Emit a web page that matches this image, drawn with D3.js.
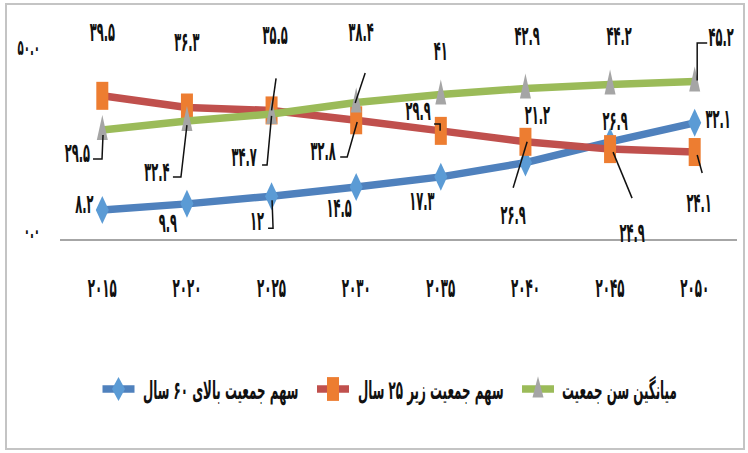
<!DOCTYPE html>
<html><head><meta charset="utf-8">
<script src="https://cdn.jsdelivr.net/npm/d3@7"></script>
<style>html,body{margin:0;padding:0;background:#fff;} svg{display:block;}</style>
</head><body>
<svg id="chart" width="748" height="453"></svg>
<script>
// ---- data ----
const years = [2015, 2020, 2025, 2030, 2035, 2040, 2045, 2050];
const over60 = [8.2, 9.9, 12, 14.5, 17.3, 21.2, 26.9, 32.1];     // سهم جمعیت بالای ۶۰ سال
const under25 = [39.5, 36.3, 35.5, 32.8, 29.9, 26.9, 24.9, 24.1]; // سهم جمعیت زیر ۲۵ سال
const meanAge = [29.5, 32.4, 34.7, 38.4, 41, 42.9, 44.2, 45.2];   // میانگین سن جمعیت
const yTicks = [0, 50];
const seriesNames = ["سهم جمعیت بالای ۶۰ سال", "سهم جمعیت زیر ۲۵ سال", "میانگین سن جمعیت"];

// ---- layout / style (not data) ----
const W = 748, H = 453;
const plot = {left: 60, right: 737, top: 57.5, bottom: 240};
const fa = s => String(s).replace(/[0-9]/g, d => "۰۱۲۳۴۵۶۷۸۹"[d]);
const fmt1 = v => fa(v.toFixed(1));
const fmtLabel = v => fa(String(v));

const svg = d3.select("#chart");
svg.append("rect").attr("x", 6).attr("y", 4).attr("width", 738).attr("height", 445)
  .attr("fill", "#fff").attr("stroke", "#c4c4c4").attr("stroke-width", 2);

const x = d3.scaleBand().domain(years).range([plot.left, plot.right]);
const xc = i => x(years[i]) + x.bandwidth() / 2;
const y = d3.scaleLinear().domain([0, 50]).range([plot.bottom, plot.top]);
const y2 = d3.scaleLinear().domain([0, 50]).range([221.5, 66.5]); // secondary (hidden) axis

// label offsets relative to the point, and leader polylines relative to the point
const labelLayout = {
  blue: {
    off: [[-18,-6],[-19,19],[-14.5,25],[-17,21],[-19,24],[12,-47.5],[5,-21],[23.5,-4]],
    lead: {2: [[-3.5,32],[1.5,32],[0.5,4]]}
  },
  orange: {
    off: [[0,-64],[0,-65.5],[3.5,-76],[-33,31],[-22.7,-20],[-12.3,73],[22,84],[4.5,51]],
    lead: {2: [[4.5,-32],[0,0]], 3: [[-16,36.7],[-9,36.7],[1,1.7]], 4: [[-6.7,-6.9],[-0.7,-6.9],[-0.7,0]],
           5: [[-12.3,46],[1.7,0]], 6: [[3,3],[22,49]], 7: [[2.5,3],[7.5,21]]}
  },
  green: {
    off: [[-25,23],[-30,51],[-27.5,43],[5,-70.5],[0,-44],[1.7,-52.5],[9,-48.5],[26.5,-44.4]],
    lead: {0: [[-9.3,29],[-0.3,29],[0.7,5]], 1: [[-14,56],[-6,56],[0,4]], 2: [[-9.5,51],[-4.5,51],[0,2]],
           3: [[9,-29.5],[-1,0.5]], 7: [[12.5,-38.4],[2.5,-38.4],[2.5,-1]]}
  }
};

const series = [
  {key: "blue", name: seriesNames[0], values: over60, scale: y, line: "#4F81BD", marker: "#5B9BD5", shape: "diamond"},
  {key: "orange", name: seriesNames[1], values: under25, scale: y, line: "#C0504D", marker: "#ED7D31", shape: "square"},
  {key: "green", name: seriesNames[2], values: meanAge, scale: y2, line: "#9BBB59", marker: "#A5A5A5", shape: "triangle"}
];

const FONT = "DejaVu Sans";
function stretchedText(g, txt, cx, cy, size, sx, sy, anchor) {
  return g.append("text")
    .attr("transform", `translate(${cx},${cy}) scale(${sx},${sy})`)
    .attr("text-anchor", anchor || "middle")
    .attr("dominant-baseline", "central")
    .attr("font-family", FONT).attr("font-weight", "bold")
    .attr("font-size", size).attr("fill", "#111")
    .text(txt);
}

function markerPath(shape) {
  if (shape === "diamond") return "M0,-14 L6.5,0 L0,14 L-6.5,0 Z";
  if (shape === "square") return "M-6,-14 L6,-14 L6,14 L-6,14 Z";
  return "M0,-15 L5.5,10 L-5.5,10 Z";
}

// axis line
svg.append("line").attr("x1", plot.left).attr("x2", plot.right)
  .attr("y1", y(0)).attr("y2", y(0)).attr("stroke", "#a6a6a6").attr("stroke-width", 2);

// y tick labels
const yAxisG = svg.append("g");
yTicks.forEach(t => stretchedText(yAxisG, fmt1(t), 40, y(t) - 10, 12, 0.85, 1.8, "end"));

// x tick labels
const xAxisG = svg.append("g");
years.forEach((yr, i) => stretchedText(xAxisG, fa(yr), xc(i), 288, 14, 0.85, 1.9));

// series
series.forEach(s => {
  const g = svg.append("g");
  const line = d3.line().x((d, i) => xc(i)).y(d => s.scale(d));
  g.append("path").datum(s.values).attr("d", line)
    .attr("fill", "none").attr("stroke", s.line).attr("stroke-width", 7.5).attr("stroke-linejoin", "round");
  g.selectAll("path.m").data(s.values).enter().append("path").attr("class", "m")
    .attr("d", markerPath(s.shape))
    .attr("transform", (d, i) => `translate(${xc(i)},${s.scale(d)})`)
    .attr("fill", s.marker);
});

// data labels and leader lines
const labG = svg.append("g");
series.forEach(s => {
  const L = labelLayout[s.key];
  s.values.forEach((v, i) => {
    const px = xc(i), py = s.scale(v);
    if (L.lead[i]) {
      labG.append("polyline")
        .attr("points", L.lead[i].map(p => `${px + p[0]},${py + p[1]}`).join(" "))
        .attr("fill", "none").attr("stroke", "#111").attr("stroke-width", 1.5);
    }
    stretchedText(labG, fmtLabel(v), px + L.off[i][0], py + L.off[i][1], 13.5, 0.85, 2.0);
  });
});

// legend
const legendItems = [
  {s: series[0], mx: 118.5, tx: 143},
  {s: series[1], mx: 333, tx: 358},
  {s: series[2], mx: 538, tx: 562}
];
const legG = svg.append("g");
legendItems.forEach(it => {
  const ly = 389;
  legG.append("line").attr("x1", it.mx - 16).attr("x2", it.mx + 16).attr("y1", ly).attr("y2", ly)
    .attr("stroke", it.s.line).attr("stroke-width", 7.5);
  legG.append("path").attr("d", markerPath(it.s.shape)).attr("transform", `translate(${it.mx},${ly}) scale(1,0.85)`)
    .attr("fill", it.s.marker);
  stretchedText(legG, it.s.name, it.tx, ly + 1, 13.5, 0.88, 1.9, "start");
});
</script>
</body></html>
